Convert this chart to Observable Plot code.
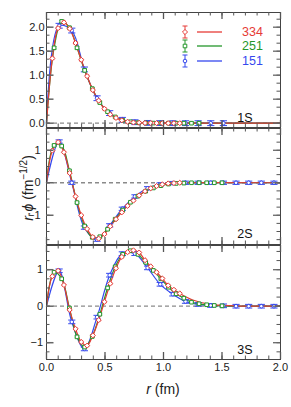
<!DOCTYPE html>
<html><head><meta charset="utf-8">
<script src="https://cdn.jsdelivr.net/npm/d3@7"></script>
<script src="https://cdn.jsdelivr.net/npm/@observablehq/plot@0.6"></script>
<style>
body{margin:0;background:#fff;}
#fig{position:relative;width:291px;height:407px;font-family:"Liberation Sans",Arial,sans-serif;color:#222;overflow:hidden;}
#fig svg.plot, #fig .abs{position:absolute;}
sup{font-size:10px;}
</style></head><body><div id="fig"></div>
<script>
// ---- data ----
const series = ["334", "251", "151"];
const colors = ["#e63b36", "#24962a", "#3548ee"];
const symbols = ["diamond2", "square2", "circle"];
const errBars = [0.025, 0.025, 0.05];
const panelLabels = ["1S", "2S", "3S"];

const r334 = [0.050,0.099,0.149,0.198,0.248,0.297,0.347,0.396,0.446,0.495,0.545,0.594,0.644,0.693,0.743,0.792,0.842,0.891,0.941,0.990,1.040,1.089,1.139];
const r251 = [0.065,0.130,0.196,0.261,0.326,0.391,0.456,0.522,0.587,0.652,0.717,0.782,0.848,0.913,0.978,1.043,1.108,1.174,1.239,1.304,1.369,1.434,1.500];
const r151 = [0.108,0.216,0.324,0.432,0.540,0.648,0.756,0.864,0.972,1.080,1.188,1.296,1.404,1.512,1.620,1.728,1.836,1.944];

const v334_1S = [1.35,1.98,2.10,1.97,1.67,1.32,0.98,0.69,0.47,0.30,0.18,0.11,0.06,0.03,0.015,0.008,0.004,0.002,0.001,0,0,0,0];
const v251_1S = [1.57,2.12,1.99,1.57,1.10,0.72,0.43,0.24,0.13,0.06,0.03,0.012,0.005,0.002,0.001,0,0,0,0,0];
const v151_1S = [2.03,1.93,1.12,0.52,0.21,0.07,0.02,0.006,0.002,0,0,0,0,0];

const v334_2S = [0.99,1.25,0.94,0.30,-0.42,-1.00,-1.42,-1.67,-1.72,-1.58,-1.34,-1.12,-0.91,-0.71,-0.55,-0.39,-0.26,-0.17,-0.10,-0.05,-0.02,-0.01,0];
const v251_2S = [1.15,1.13,0.37,-0.61,-1.33,-1.68,-1.66,-1.43,-1.12,-0.84,-0.60,-0.41,-0.26,-0.16,-0.09,-0.04,-0.02,-0.01,0,0,0,0,0];
const v151_2S = [1.27,0.0,-1.38,-1.75,-1.31,-0.80,-0.42,-0.17,-0.05,-0.01,0,0,0,0,0,0,0,0];

const v334_3S = [0.82,0.97,0.58,-0.10,-0.62,-0.98,-1.08,-0.80,-0.38,0.12,0.62,1.04,1.35,1.48,1.53,1.47,1.26,1.09,0.93,0.76,0.57,0.45,0.35];
const v251_3S = [0.93,0.75,-0.05,-0.84,-1.12,-0.83,-0.22,0.50,1.08,1.42,1.52,1.42,1.20,0.98,0.75,0.52,0.34,0.22,0.11,0.066,0.04,0.02,0.01];
const v151_3S = [0.97,-0.43,-1.17,-0.30,0.85,1.44,1.44,1.05,0.60,0.33,0.13,0.05,0.02,0.01,0,0,0,0];

// fitted-line tail beyond the last 334 point in 3S
const tailR_334_3S = [1.25, 1.40, 1.60];
const tailV_334_3S = [0.17, 0.05, 0.01];
const lineStart = [0, 0];
const lineEnd = [2, 0];

const xMajor = [0, 0.5, 1.0, 1.5, 2.0];
const yMajorTicks = [[0, 0.5, 1.0, 1.5, 2.0], [-1, 0, 1], [-1, 0, 1]];
const yDomains = [[-0.09, 2.306], [-1.9, 1.67], [-1.46, 1.663]];
const yMinorStep = [0.5 / 3, 0.25, 0.25];

// ---- assemble ----
const rs = [r334, r251, r151];
const vals = [[v334_1S, v334_2S, v334_3S], [v251_1S, v251_2S, v251_3S], [v151_1S, v151_2S, v151_3S]];
const pointsOf = (s, p) => vals[s][p].map((v, k) => ({r: rs[s][k], v}));
const lineOf = (s, p) => {
  const pts = [{r: lineStart[0], v: lineStart[1]}, ...pointsOf(s, p)];
  if (s === 0 && p === 2) tailR_334_3S.forEach((r, k) => pts.push({r, v: tailV_334_3S[k]}));
  pts.push({r: lineEnd[0], v: lineEnd[1]});
  return pts;
};

const W = 291, ML = 46, MR = 11;
const tops = [0, 127, 244], heights = [128, 118, 163], mts = [12, 1, 1], mbs = [1, 1, 48];
const pads = [2, 6, 3.5];
const labelDy = [-5.5, -7, -6];
const markerR = [2.3, 2.3, 1.8];
const capR = [2, 2.2, 3.6];
const cap = {draw(ctx, size) { const w = Math.sqrt(size / Math.PI); ctx.moveTo(-w, 0); ctx.lineTo(w, 0); }};
const fmtInt = d => d < 0 ? "\u2212" + Math.abs(d) : String(d);
const fmts = [d3.format(".1f"), fmtInt, fmtInt];
const xMinor = d3.range(0, 20.5, 1).map(k => k / 10);

const fig = document.getElementById("fig");

for (let p = 0; p < 3; p++) {
  const H = heights[p], ph = H - mts[p] - mbs[p], pw = W - ML - MR;
  const [lo, hi] = yDomains[p];
  const st = yMinorStep[p];
  const yMinor = d3.range(Math.ceil(lo / st), Math.floor(hi / st) + 1).map(k => k * st);
  const marks = [];
  marks.push(Plot.ruleY([0], {stroke: "#8a8a8a", strokeWidth: 1.3, strokeDasharray: "4,3"}));
  const order = [2, 1, 0];
  for (const s of order) {
    marks.push(Plot.line(lineOf(s, p), {x: "r", y: "v", stroke: colors[s], strokeWidth: 1.2, curve: "catmull-rom"}));
  }
  for (const s of order) {
    const pts = pointsOf(s, p), e = errBars[s];
    marks.push(Plot.ruleX(pts, {x: "r", y1: d => d.v - e, y2: d => d.v + e, stroke: colors[s], strokeWidth: 1}));
    marks.push(Plot.dot(pts, {x: "r", y: d => d.v - e, symbol: cap, r: capR[s], stroke: colors[s], fill: "none", strokeWidth: 1}));
    marks.push(Plot.dot(pts, {x: "r", y: d => d.v + e, symbol: cap, r: capR[s], stroke: colors[s], fill: "none", strokeWidth: 1}));
    marks.push(Plot.dot(pts, {x: "r", y: "v", symbol: symbols[s], r: markerR[s], stroke: colors[s], fill: "white", strokeWidth: 1}));
  }
  marks.push(Plot.frame({stroke: "#444", strokeWidth: 1}));
  // inward ticks
  marks.push(Plot.tickX(xMinor, {x: d => d, insetTop: ph - 3.5, stroke: "#555"}));
  marks.push(Plot.tickX(xMinor, {x: d => d, insetBottom: ph - 3.5, stroke: "#555"}));
  marks.push(Plot.tickX(xMajor, {x: d => d, insetTop: ph - 7, stroke: "#555", strokeWidth: 1.3}));
  marks.push(Plot.tickX(xMajor, {x: d => d, insetBottom: ph - 7, stroke: "#555", strokeWidth: 1.3}));
  marks.push(Plot.tickY(yMinor, {y: d => d, insetRight: pw - 3.5, stroke: "#555"}));
  marks.push(Plot.tickY(yMinor, {y: d => d, insetLeft: pw - 3.5, stroke: "#555"}));
  marks.push(Plot.tickY(yMajorTicks[p], {y: d => d, insetRight: pw - 7.5, stroke: "#666", strokeWidth: 1.5}));
  marks.push(Plot.tickY(yMajorTicks[p], {y: d => d, insetLeft: pw - 7, stroke: "#666", strokeWidth: 1.3}));
  marks.push(Plot.axisY({ticks: yMajorTicks[p], tickSize: 0, tickPadding: pads[p], tickFormat: fmts[p], label: null, fontSize: 11}));
  if (p === 2) marks.push(Plot.axisX({ticks: xMajor, tickSize: 0, tickPadding: 4, tickFormat: d3.format(".1f"), label: null, fontSize: 11}));
  marks.push(Plot.text([panelLabels[p]], {frameAnchor: "bottom-right", text: d => d, dx: -28, dy: labelDy[p], fontSize: 12.5, fill: "#111", textAnchor: "end", lineAnchor: "bottom"}));

  const chart = Plot.plot({
    width: W, height: H,
    marginLeft: ML, marginRight: MR, marginTop: mts[p], marginBottom: mbs[p],
    x: p === 2 ? {domain: [0, 2]} : {domain: [0, 2], axis: null},
    y: {domain: yDomains[p]},
    style: {fontFamily: "Liberation Sans, Arial, sans-serif", fontSize: "11px", color: "#222", background: "transparent", overflow: "visible"},
    marks
  });
  chart.style.position = "absolute";
  chart.style.top = tops[p] + "px";
  chart.style.left = "0px";
  fig.appendChild(chart);
}

// legend (inside panel 1)
const legendRowY = [31.5, 46, 60.5];
series.forEach((name, k) => {
  const svg = d3.select(fig).append("svg").attr("class", "abs")
    .style("left", "177px").style("top", (legendRowY[k] - 8) + "px")
    .attr("width", 50).attr("height", 16);
  const c = colors[k];
  svg.append("line").attr("x1", 8).attr("x2", 8).attr("y1", 2).attr("y2", 14).attr("stroke", c);
  svg.append("line").attr("x1", 5.5).attr("x2", 10.5).attr("y1", 2).attr("y2", 2).attr("stroke", c);
  svg.append("line").attr("x1", 5.5).attr("x2", 10.5).attr("y1", 14).attr("y2", 14).attr("stroke", c);
  const symType = [d3.symbolDiamond2, d3.symbolSquare2, d3.symbolCircle][k];
  svg.append("path").attr("transform", "translate(8,8)")
    .attr("d", d3.symbol(symType, Math.PI * markerR[k] * markerR[k])())
    .attr("fill", "white").attr("stroke", c);
  svg.append("line").attr("x1", 20).attr("x2", 45).attr("y1", 8).attr("y2", 8).attr("stroke", c).attr("stroke-width", 1.3);
  d3.select(fig).append("div").attr("class", "abs")
    .style("left", "242px").style("top", (legendRowY[k] - 7) + "px")
    .style("font-size", "12.5px").style("line-height", "14px").style("color", c)
    .text(name);
});

// axis titles
d3.select(fig).append("div").attr("class", "abs")
  .style("left", "27px").style("top", "188px")
  .style("transform", "translate(-50%,-50%) rotate(-90deg)")
  .style("white-space", "nowrap").style("font-size", "14px")
  .html("<i>r</i>\u00b7<i>\u03d5</i> (fm<sup>\u22121/2</sup>)");
d3.select(fig).append("div").attr("class", "abs")
  .style("left", "163px").style("top", "389px")
  .style("transform", "translate(-50%,-50%)")
  .style("white-space", "nowrap").style("font-size", "14px")
  .html("<i>r</i> (fm)");
</script>
</body></html>
